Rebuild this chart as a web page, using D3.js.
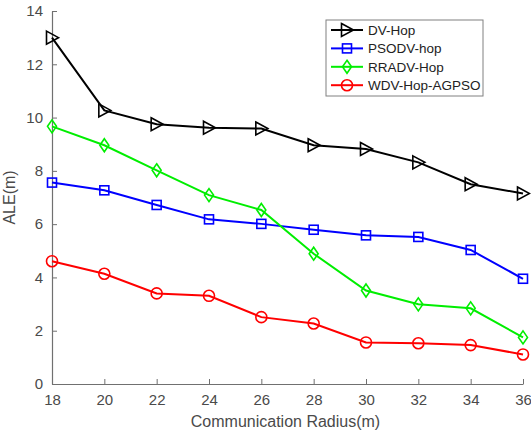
<!DOCTYPE html>
<html>
<head>
<meta charset="utf-8">
<script src="https://cdn.jsdelivr.net/npm/d3@7"></script>
<style>
  body { margin: 0; background: #fff; }
  svg { display: block; font-family: "Liberation Sans", Arial, sans-serif; }
</style>
</head>
<body>
<svg id="chart" width="531" height="435"></svg>
<script>
const radius = [18, 20, 22, 24, 26, 28, 30, 32, 34, 36];
const dvHop   = [13.0, 10.27, 9.75, 9.62, 9.59, 8.96, 8.82, 8.32, 7.5, 7.15];
const psodv   = [7.56, 7.27, 6.72, 6.18, 6.01, 5.79, 5.58, 5.52, 5.03, 3.95];
const rradv   = [9.67, 8.96, 8.02, 7.09, 6.53, 4.89, 3.51, 2.99, 2.84, 1.75];
const wdv     = [4.61, 4.14, 3.40, 3.31, 2.51, 2.27, 1.56, 1.53, 1.46, 1.11];
const seriesNames = ["DV-Hop", "PSODV-hop", "RRADV-Hop", "WDV-Hop-AGPSO"];
const xTicks = [18, 20, 22, 24, 26, 28, 30, 32, 34, 36];
const yTicks = [0, 2, 4, 6, 8, 10, 12, 14];

const series = [
  { name: seriesNames[0], values: dvHop, color: "#000000", marker: "tri" },
  { name: seriesNames[1], values: psodv, color: "#0000ff", marker: "square" },
  { name: seriesNames[2], values: rradv, color: "#00ee00", marker: "diamond" },
  { name: seriesNames[3], values: wdv,   color: "#ff0000", marker: "circle" }
];

const svg = d3.select("#chart");
const margin = { top: 11, right: 8, bottom: 51, left: 52 };
const W = 531 - margin.left - margin.right;
const H = 435 - margin.top - margin.bottom;

const x = d3.scaleLinear().domain([18, 36]).range([0, W]);
const y = d3.scaleLinear().domain([0, 14]).range([H, 0]);

const g = svg.append("g").attr("transform", `translate(${margin.left},${margin.top})`);

const axisColor = "#707070";
const textColor = "#4a4a4a";

const xAxis = g.append("g").attr("transform", `translate(0,${H})`)
  .call(d3.axisBottom(x).tickValues(xTicks).tickSizeInner(-5).tickSizeOuter(0).tickPadding(10));
const yAxis = g.append("g")
  .call(d3.axisLeft(y).tickValues(yTicks).tickSizeInner(-5).tickSizeOuter(0).tickPadding(9));

[xAxis, yAxis].forEach(a => {
  a.select(".domain").attr("stroke", axisColor).attr("stroke-width", 1.2);
  a.selectAll(".tick line").attr("stroke", axisColor);
  a.selectAll(".tick text").attr("fill", textColor).style("font-size", "15px");
});

g.append("text").attr("x", W / 2 - 2).attr("y", H + 43).attr("text-anchor", "middle")
  .attr("fill", textColor).style("font-size", "16px").text("Communication Radius(m)");
g.append("text").attr("transform", "rotate(-90)").attr("x", -H / 2).attr("y", -37)
  .attr("text-anchor", "middle").attr("fill", textColor).style("font-size", "16px").text("ALE(m)");

function drawMarker(sel, type, color) {
  if (type === "tri") {
    sel.append("path").attr("d", "M-5.5,-6.5 L6.5,0 L-5.5,6.5 Z");
  } else if (type === "square") {
    sel.append("rect").attr("x", -4.5).attr("y", -4.5).attr("width", 9).attr("height", 9);
  } else if (type === "diamond") {
    sel.append("path").attr("d", "M0,-6.5 L4.5,0 L0,6.5 L-4.5,0 Z");
  } else {
    sel.append("circle").attr("r", 5.5);
  }
  sel.selectAll("path,rect,circle").attr("fill", "none").attr("stroke", color).attr("stroke-width", 1.6);
}

const line = d3.line().x((d, i) => x(radius[i])).y(d => y(d));

series.forEach(s => {
  g.append("path").datum(s.values)
    .attr("fill", "none").attr("stroke", s.color).attr("stroke-width", 2)
    .attr("d", line);
  s.values.forEach((v, i) => {
    const m = g.append("g").attr("transform", `translate(${x(radius[i])},${y(v)})`);
    drawMarker(m, s.marker, s.color);
  });
});

// legend
const legend = svg.append("g").attr("transform", "translate(326,20)");
legend.append("rect").attr("width", 157).attr("height", 76)
  .attr("fill", "#fff").attr("stroke", "#808080").attr("stroke-width", 1);
series.forEach((s, i) => {
  const row = legend.append("g").attr("transform", `translate(0,${10 + i * 18.4})`);
  row.append("line").attr("x1", 5).attr("x2", 37).attr("stroke", s.color).attr("stroke-width", 2);
  const m = row.append("g").attr("transform", "translate(21,0)");
  drawMarker(m, s.marker, s.color);
  row.append("text").attr("x", 42).attr("y", 5).attr("fill", "#222")
    .style("font-size", "13.5px").text(s.name);
});
</script>
</body>
</html>
